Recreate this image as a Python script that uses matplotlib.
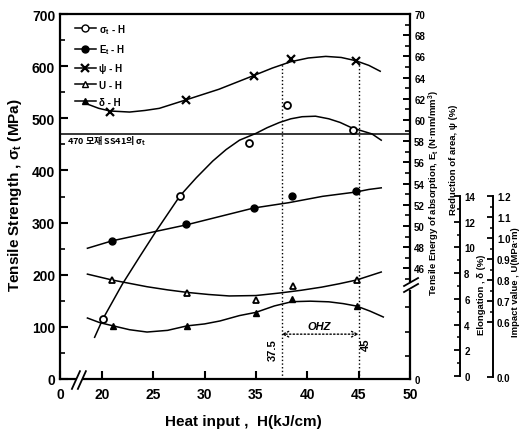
import numpy as np
import matplotlib.pyplot as plt
from matplotlib.lines import Line2D
from matplotlib.transforms import blended_transform_factory

plt.rcParams['font.family'] = ['Liberation Sans Narrow', 'Liberation Sans', 'DejaVu Sans']
plt.rcParams['font.weight'] = 'bold'
plt.rcParams['mathtext.default'] = 'regular'

# tensile strength sigma_t (MPa) - fitted curve and measured points
h_st_curve = [19.3, 20.1, 22.0, 23.7, 25.3, 27.6, 29.2, 30.8, 32.1, 33.4, 35.0, 36.1, 37.3,
              38.4, 39.5, 40.8, 42.1, 43.2, 44.3, 45.3, 46.3, 47.2]
st_curve = [80, 115, 182, 235, 284, 351, 386, 418, 440, 458, 471, 482, 492,
            499, 503, 504, 499, 492, 482, 476, 470, 458]
h_st_pts = [20.1, 27.6, 34.3, 38.0, 44.5]
st_pts = [115, 351, 452, 526, 478]

# tensile energy of absorption Et (N.mm/mm3)
h_et_curve = [18.6, 21.0, 25.3, 28.2, 31.5, 34.8, 38.2, 41.5, 44.7, 46.0, 47.2]
et_curve = [47.9, 48.6, 49.5, 50.1, 50.9, 51.7, 52.2, 52.8, 53.2, 53.45, 53.6]
h_et_pts = [21.0, 28.2, 34.8, 38.5, 44.7]
et_pts = [48.6, 50.2, 51.7, 52.8, 53.3]

# reduction of area psi (%)
h_psi_curve = [18.6, 19.7, 20.8, 22.7, 24.2, 25.6, 28.2, 29.8, 31.4, 33.1, 34.8, 36.6, 38.4,
               40.1, 41.8, 43.3, 44.7, 46.0, 47.1]
psi_curve = [61.5, 61.1, 60.85, 60.75, 60.9, 61.1, 61.9, 62.4, 62.9, 63.55, 64.2, 64.9, 65.5,
             65.85, 66.0, 65.9, 65.6, 65.15, 64.6]
h_psi_pts = [20.8, 28.2, 34.8, 38.4, 44.7]
psi_pts = [60.75, 61.9, 64.15, 65.75, 65.57]

# impact value U (MPa.m)
h_u_curve = [18.6, 21.0, 24.4, 26.4, 28.3, 30.4, 32.4, 35.0, 37.3, 39.4, 41.4, 43.1, 44.8, 47.2]
u_curve = [0.828, 0.800, 0.768, 0.753, 0.741, 0.731, 0.724, 0.726, 0.738, 0.751, 0.766, 0.782,
           0.800, 0.838]
h_u_pts = [21.0, 28.3, 35.0, 38.6, 44.8]
u_pts = [0.800, 0.738, 0.706, 0.771, 0.800]

# elongation delta (%)
h_d_curve = [18.6, 19.8, 21.1, 22.7, 24.4, 26.4, 28.3, 30.0, 31.5, 33.4, 35.0, 36.8, 38.5,
             40.3, 42.1, 43.5, 44.8, 46.1, 47.4]
d_curve = [4.51, 4.15, 3.90, 3.60, 3.42, 3.55, 3.90, 4.05, 4.28, 4.70, 4.95, 5.45, 5.78,
           5.82, 5.77, 5.63, 5.44, 5.05, 4.59]
h_d_pts = [21.1, 28.3, 35.0, 38.5, 44.8]
d_pts = [3.90, 3.90, 4.92, 5.97, 5.44]

base_st = 470
ohz = [37.5, 45]

fig = plt.figure(figsize=(5.23, 4.39), dpi=100)
ax = fig.add_axes([60 / 523, 59 / 439, 350 / 523, 365 / 439])
ax.set_xlim(15.93, 50)
ax.set_ylim(0, 700)

lw_sp = 1.6
for s in ['left', 'bottom', 'top']:
    ax.spines[s].set_linewidth(lw_sp)
ax.spines['right'].set_visible(False)

ax.set_yticks(range(0, 701, 100))
ax.set_yticks(range(50, 700, 100), minor=True)
ax.set_xticks([15.93, 20, 25, 30, 35, 40, 45, 50])
ax.set_xticklabels(['0', '20', '25', '30', '35', '40', '45', '50'])
ax.tick_params(axis='both', which='major', direction='in', length=6, width=1.5, labelsize=10)
ax.tick_params(axis='y', which='minor', direction='in', length=3.5, width=1.2)
ax.tick_params(axis='x', pad=6)

# main series
ax.plot(h_st_curve, st_curve, color='black', lw=1.1)
ax.plot(h_st_pts, st_pts, 'o', mfc='white', mec='black', mew=1.3, ms=5)
ax.axhline(base_st, color='black', lw=1.1)
ax.text(16.6, base_st - 12, '470 모재 SS41의 σ$_t$', fontsize=6.5, va='center', ha='left',
        family=['Noto Sans CJK KR', 'DejaVu Sans'], weight='bold')

for h in ohz:
    ax.plot([h, h], [0, 605], color='black', lw=1, ls=':')
ax.annotate('', xy=(ohz[0], 86), xytext=(ohz[1], 86),
            arrowprops=dict(arrowstyle='<->', lw=1, ls=':', color='black', shrinkA=0, shrinkB=0))
ax.text(41.2, 102, 'OHZ', fontsize=8, style='italic', ha='center', va='center')
ax.text(36.6, 58, '37.5', fontsize=8, rotation=90, ha='center', va='center')
ax.text(45.7, 67, '45', fontsize=8, rotation=90, ha='center', va='center')

# break on x axis
ax.plot([17.45, 18.1], [0, 0], color='white', lw=3, clip_on=False, zorder=5, solid_capstyle='butt')
ax.plot([17.09, 17.87], [-19, 15], color='black', lw=1.3, clip_on=False, zorder=6)
ax.plot([17.67, 18.45], [-19, 15], color='black', lw=1.3, clip_on=False, zorder=6)

# right axis: Et and psi
ax2 = ax.twinx()
ax2.set_ylim(35.566, 70)
for s in ['left', 'bottom', 'top']:
    ax2.spines[s].set_visible(False)
ax2.spines['right'].set_linewidth(lw_sp)
ax2.set_yticks([35.566] + list(range(46, 71, 2)))
ax2.set_yticklabels(['0'] + [str(v) for v in range(46, 71, 2)])
ax2.set_yticks([37.7, 40.0, 42.4] + list(range(45, 70, 2)), minor=True)
ax2.tick_params(axis='y', which='major', direction='in', length=5, width=1.4, labelsize=7, pad=3)
ax2.tick_params(axis='y', which='minor', direction='in', length=3.5, width=1.2)
ax2.plot(h_et_curve, et_curve, color='black', lw=1.1)
ax2.plot(h_et_pts, et_pts, 'o', color='black', ms=5)
ax2.plot(h_psi_curve, psi_curve, color='black', lw=1.1)
ax2.plot(h_psi_pts, psi_pts, 'x', color='black', mew=1.6, ms=6)

tr2 = blended_transform_factory(ax2.transAxes, ax2.transData)
ax2.plot([1.0, 1.0], [44.0, 44.7], color='white', lw=4, transform=tr2, clip_on=False, zorder=5,
         solid_capstyle='butt')
ax2.plot([0.983, 1.023], [43.77, 44.53], color='black', lw=1.3, transform=tr2, clip_on=False, zorder=6)
ax2.plot([0.983, 1.023], [44.34, 45.09], color='black', lw=1.3, transform=tr2, clip_on=False, zorder=6)

# elongation axis
ax_d = ax.twinx()
ax_d.set_ylim(-0.233, 28.156)
for s in ['left', 'bottom', 'top']:
    ax_d.spines[s].set_visible(False)
ax_d.spines['right'].set_position(('axes', 1.143))
ax_d.spines['right'].set_bounds(0, 14)
ax_d.spines['right'].set_linewidth(1.4)
ax_d.set_yticks(range(0, 15, 2))
ax_d.set_yticks(range(1, 14, 2), minor=True)
ax_d.tick_params(axis='y', which='major', direction='in', length=4, width=1.3, labelsize=7, pad=3)
ax_d.tick_params(axis='y', which='minor', direction='in', length=2.5, width=1.1)
ax_d.plot(h_d_curve, d_curve, color='black', lw=1.1)
ax_d.plot(h_d_pts, d_pts, '^', color='black', ms=5)

# impact value axis
ax_u = ax.twinx()
ax_u.set_ylim(0.32857, 2.0667)
for s in ['left', 'bottom', 'top']:
    ax_u.spines[s].set_visible(False)
ax_u.spines['right'].set_position(('axes', 1.237))
ax_u.spines['right'].set_bounds(0.338, 1.2)
ax_u.spines['right'].set_linewidth(1.4)
u_ticks = [0.6, 0.7, 0.8, 0.9, 1.0, 1.1, 1.2]
ax_u.set_yticks([0.338] + u_ticks)
ax_u.set_yticklabels(['0.0'] + [f'{v:.1f}' for v in u_ticks])
ax_u.set_yticks([0.65, 0.75, 0.85, 0.95, 1.05, 1.15], minor=True)
ax_u.tick_params(axis='y', which='major', direction='in', length=4, width=1.3, labelsize=7, pad=3)
ax_u.tick_params(axis='y', which='minor', direction='in', length=2.5, width=1.1)
ax_u.plot(h_u_curve, u_curve, color='black', lw=1.1)
ax_u.plot(h_u_pts, u_pts, '^', mfc='white', mec='black', mew=1.3, ms=5)

# legend
handles = [
    Line2D([], [], color='black', lw=1.1, marker='o', mfc='white', mec='black', ms=5),
    Line2D([], [], color='black', lw=1.1, marker='o', ms=5),
    Line2D([], [], color='black', lw=1.1, marker='x', mew=1.6, ms=6),
    Line2D([], [], color='black', lw=1.1, marker='^', mfc='white', mec='black', ms=5),
    Line2D([], [], color='black', lw=1.1, marker='^', ms=5),
]
labels = ['σ$_t$ - H', 'E$_t$ - H', 'ψ - H', 'U - H', 'δ - H']
ax_u.legend(handles, labels, loc='upper left', bbox_to_anchor=(0.02, 1.0), frameon=False,
            fontsize=7, handlelength=2.2, labelspacing=0.7, handletextpad=0.3, borderaxespad=0.4)

# axis titles
fig.text(15 / 523, 0.555, 'Tensile Strength , σ$_t$ (MPa)', rotation=90, ha='center', va='center', fontsize=11)
fig.text(243 / 523, 0.038, 'Heat input ,  H(kJ/cm)', ha='center', va='center', fontsize=11)
fig.text(434 / 523, 0.560, 'Tensile Energy of absorption, E$_t$ (N·mm/mm$^3$)', rotation=90,
         ha='center', va='center', fontsize=6.8)
fig.text(453 / 523, 0.636, 'Reduction of area, ψ (%)', rotation=90, ha='center', va='center', fontsize=6.8)
fig.text(482 / 523, 0.328, 'Elongation , δ (%)', rotation=90, ha='center', va='center', fontsize=6.8)
fig.text(516 / 523, 0.358, 'Impact value , U(MPa·m)', rotation=90, ha='center', va='center', fontsize=6.8)

fig.savefig('out.png', dpi=100)
